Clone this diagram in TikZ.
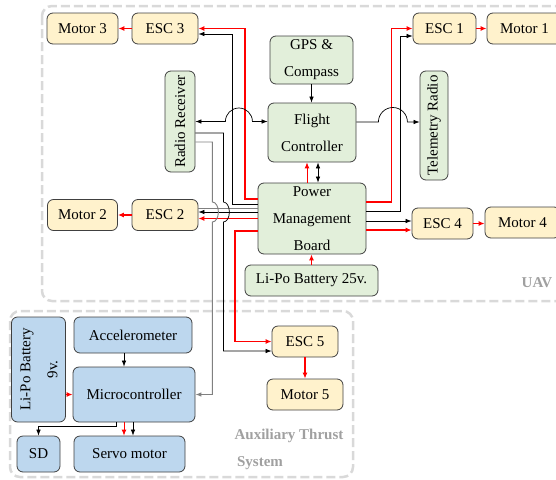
\documentclass[tikz,border=0pt]{standalone}
\usepackage{fontspec}
\setmainfont{Liberation Serif}
\usepackage{tikz}
\usetikzlibrary{arrows.meta, positioning, calc}
\definecolor{uavgreen}{HTML}{E2EFDA}
\definecolor{escyellow}{HTML}{FFF2CC}
\definecolor{auxblue}{HTML}{BDD7EE}
\definecolor{edgegray}{HTML}{404040}
\definecolor{framegray}{HTML}{D9D9D9}
\definecolor{labelgray}{HTML}{A0A0A0}
\definecolor{wiregray}{HTML}{808080}
\definecolor{wirered}{HTML}{FF0000}

\begin{document}
\begin{tikzpicture}[
    x=1pt, y=-1pt,
    every node/.style = {font=\fontsize{15}{27}\selectfont},
    box/.style = {rectangle, rounded corners=6pt, draw=edgegray, line width=0.8pt,
                  align=center, inner sep=0pt},
    greenbox/.style = {box, fill=uavgreen},
    escbox/.style = {box, fill=escyellow, minimum height=31pt},
    auxbox/.style = {box, fill=auxblue},
    frame/.style = {draw=framegray, line width=2.5pt, dash pattern=on 9pt off 4pt,
                    rounded corners=10pt},
    tag/.style = {font=\fontsize{15}{17}\selectfont\bfseries, color=labelgray},
    power/.style = {-{Latex[length=6pt, width=5pt]}, line width=1.8pt, color=wirered},
    thinpower/.style = {-{Latex[length=6pt, width=5pt]}, line width=0.9pt, color=wirered},
    signal/.style = {-{Latex[length=6pt, width=4.5pt]}, line width=0.7pt, color=black},
    graysignal/.style = {-{Latex[length=6pt, width=4.5pt]}, line width=0.9pt, color=wiregray}
  ]
    \useasboundingbox (0,0) rectangle (556,479);
    \clip (0,0) rectangle (556,479);

    % Frames
    \draw[frame] (42,6) rectangle (572,301);
    \draw[frame] (10,311) rectangle (353,477);
    \node[tag] (uav) at (537,283) {UAV};
    \node[tag] (auxa) at (289,436) {Auxiliary Thrust};
    \node[tag] (auxb) at (260,463) {System};

    % UAV core
    \node[greenbox, minimum width=83pt, minimum height=48pt] (gps) at (311.5,60) {GPS \&\\Compass};
    \node[greenbox, minimum width=88pt, minimum height=59pt] (fc) at (312,132.5) {Flight\\Controller};
    \node[greenbox, minimum width=30pt, minimum height=101pt] (rr) at (180,121.5) {\rotatebox{90}{Radio Receiver}};
    \node[greenbox, minimum width=28pt, minimum height=109pt] (tr) at (434,125.5) {\rotatebox{90}{Telemetry Radio}};
    \node[greenbox, minimum width=108pt, minimum height=71pt] (pmb) at (312,218.5) {Power\\Management\\Board};
    \node[greenbox, minimum width=133pt, minimum height=31pt] (lipo25) at (311.5,280.5) {Li-Po Battery 25v.};

    % ESCs and motors
    \node[escbox, minimum width=71pt] (motor3) at (82.5,28.5) {Motor 3};
    \node[escbox, minimum width=66pt] (esc3) at (165,28.5) {ESC 3};
    \node[escbox, minimum width=63pt] (esc1) at (444.5,28.5) {ESC 1};
    \node[escbox, minimum width=75pt] (motor1) at (524.5,28.5) {Motor 1};
    \node[escbox, minimum width=70pt] (motor2) at (82.5,215) {Motor 2};
    \node[escbox, minimum width=66pt] (esc2) at (165,215) {ESC 2};
    \node[escbox, minimum width=61pt] (esc4) at (442.5,223.5) {ESC 4};
    \node[escbox, minimum width=75pt] (motor4) at (522.5,222.5) {Motor 4};
    \node[escbox, minimum width=66pt] (esc5) at (305,341.5) {ESC 5};
    \node[escbox, minimum width=76pt] (motor5) at (305,394.5) {Motor 5};

    % Auxiliary system
    \node[auxbox, minimum width=43pt, minimum height=105pt] (lipo9) at (38.5,369.5)
        {\rotatebox{90}{\begin{tabular}{@{}c@{}}Li-Po Battery\\9v.\end{tabular}}};
    \node[auxbox, minimum width=118pt, minimum height=36pt] (acc) at (133,335) {Accelerometer};
    \node[auxbox, minimum width=122pt, minimum height=55pt] (mcu) at (134,394.5) {Microcontroller};
    \node[auxbox, minimum width=43pt, minimum height=36pt] (sd) at (38.5,454) {SD};
    \node[auxbox, minimum width=111pt, minimum height=36pt] (servo) at (129.5,454) {Servo motor};

    % Power lines
    \draw[power] ([yshift=19.5pt]pmb.west) -- ++(-13,0) |- (esc3.east);
    \draw[power] ([yshift=16.5pt]pmb.east) -- ++(25,0) |- (esc1.west);
    \draw[power] (pmb.west) -- ([yshift=-3.5pt]esc2.east);
    \draw[power] ([yshift=-11.5pt]pmb.east) -- ([yshift=-6.5pt]esc4.west);
    \draw[power] ([yshift=-12.5pt]pmb.west) -- ++(-23,0) |- (esc5.west);
    \draw[power] (lipo25.north) -- (lipo25.north |- pmb.south);
    \draw[thinpower] ([xshift=-5pt]pmb.north) -- ([xshift=-5pt]fc.south);
    \draw[power] (esc3.west) -- (motor3.east);
    \draw[power] (esc1.east) -- (motor1.west);
    \draw[power] (esc2.west) -- (motor2.east);
    \draw[power] (esc4.east) -- (esc4.east -| motor4.west);
    \draw[power] (esc5.south) -- (motor5.north);

    % Signal lines
    \draw[signal] (gps.south) -- (gps.south |- fc.north);
    \draw[signal, {Latex[length=6pt, width=4.5pt]}-{Latex[length=6pt, width=4.5pt]}]
        ([xshift=6pt]pmb.north) -- ([xshift=6pt]fc.south);
    \draw[signal, {Latex[length=6pt, width=4.5pt]}-{Latex[length=6pt, width=4.5pt]}]
        (rr.east) -- ++(30,0) arc[start angle=180, end angle=0, radius=13.5pt] -- ([yshift=11pt]fc.west);
    \draw[signal] ([yshift=10.5pt]fc.east) -- ++(22,0) arc[start angle=180, end angle=0, radius=14.5pt]
        -- ([yshift=3.5pt]tr.west);
    \draw[signal] ([yshift=14.5pt]pmb.west) -- ++(-25,0) |- ([yshift=-5.5pt]esc3.east);
    \draw[signal] ([yshift=7.5pt]pmb.east) -- ++(34,0) |- ([yshift=-7.5pt]esc1.west);
    \draw[wiregray, line width=0.9pt] ([yshift=10.5pt]pmb.west) -- ([yshift=7pt]esc2.east);
    \draw[signal] ([yshift=6.5pt]pmb.west) -- ([yshift=3pt]esc2.east);
    \draw[signal] ([yshift=-2.5pt]pmb.east) -- ([yshift=2.5pt]esc4.west);
    \draw[graysignal] ([yshift=-20.5pt]rr.east) -- ++(17,0) -- ++(0,60)
        arc[start angle=90, end angle=-90, x radius=6pt, y radius=10pt] |- (mcu.east);
    \draw[signal] ([yshift=-11.5pt]rr.east) -- ++(28,0) -- ++(0,69)
        arc[start angle=90, end angle=-90, x radius=6pt, y radius=10pt] |- ([yshift=-9.5pt]esc5.west);

    % Auxiliary wiring
    \draw[power] (lipo9.east |- mcu.east) -- (mcu.west);
    \draw[signal] ([xshift=-9pt]acc.south) -- ([xshift=-9pt]acc.south |- mcu.north);
    \draw[signal] ([xshift=-18pt]mcu.south) -- ++(0,4) -| (sd.north);
    \draw[thinpower] ([xshift=-10pt]mcu.south) -- ([xshift=-10pt]mcu.south |- servo.north);
    \draw[signal] ([xshift=-1pt]mcu.south) -- ([xshift=-1pt]mcu.south |- servo.north);

  \end{tikzpicture}
\end{document}
